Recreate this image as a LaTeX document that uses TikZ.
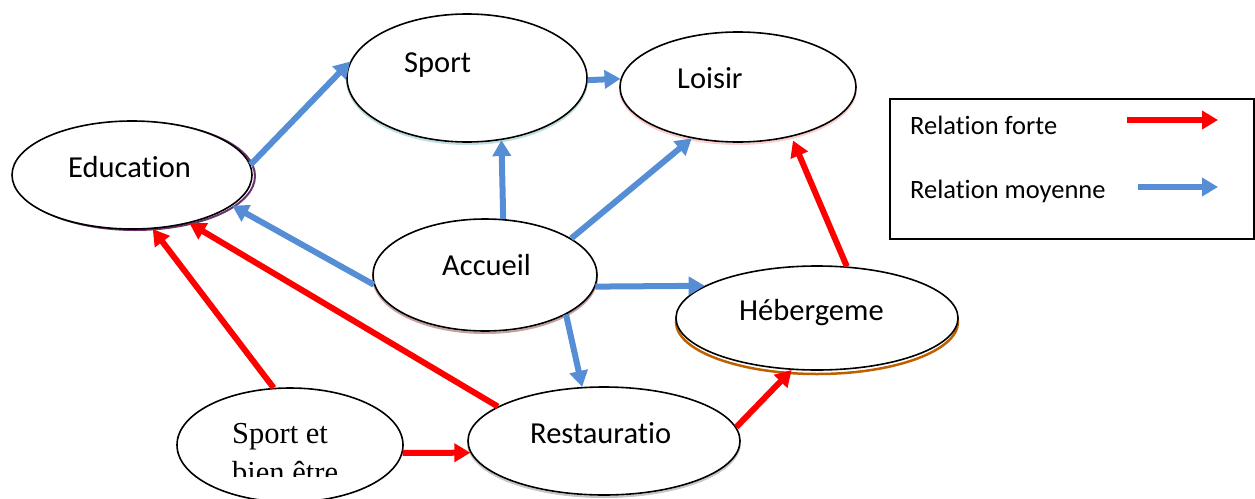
\documentclass[tikz,border=0pt]{standalone}
\usepackage{fontspec}
\setmainfont{Carlito}[Ligatures=NoCommon]
\newfontfamily\serifft{Liberation Serif}
\usetikzlibrary{arrows.meta,shapes.geometric}
\definecolor{arrblue}{HTML}{558ED5}
\definecolor{arrred}{HTML}{FF0000}
\begin{document}
\begin{tikzpicture}[x=1pt,y=-1pt,
 ell/.style={draw, ellipse, line width=1.6pt, inner sep=0pt, fill=white},
 lbl/.style={anchor=base west, inner sep=0pt, font=\fontsize{30.5}{36}\selectfont},
 serlbl/.style={anchor=base west, inner sep=0pt, font=\serifft\fontsize{30.5}{36}\selectfont},
 leglbl/.style={anchor=base west, inner sep=0pt, font=\fontsize{26.5}{32}\selectfont},
 strong/.style={draw=arrred, line width=6pt, -{Triangle[width=18pt,length=16pt]}},
 medium/.style={draw=arrblue, line width=6pt, -{Triangle[width=18pt,length=16pt]}},
 shad/.style={line width=2pt}]
\useasboundingbox (0,0) rectangle (1255,498);

% soft coloured shadows
\draw[shad, draw=violet!55!black!80] (135,176) ellipse (120pt and 54pt);
\draw[shad, draw=teal!25!white] (467,80) ellipse (120pt and 64pt);
\draw[shad, draw=red!20!white] (738,89) ellipse (118pt and 55pt);
\draw[shad, draw=red!25!gray!60] (485,277) ellipse (112pt and 56pt);
\draw[shad, draw=orange!75!black, line width=2.5pt] (817,322) ellipse (141pt and 52pt);
\draw[shad, draw=gray!45] (604,443) ellipse (136pt and 54pt);

% nodes
\node[ell, minimum width=240pt, minimum height=108pt] (edu) at (132,175) {};
\node[ell, minimum width=240pt, minimum height=128pt] (sport) at (467,78) {};
\node[ell, minimum width=236pt, minimum height=110pt] (loisir) at (738,87) {};
\node[ell, minimum width=224pt, minimum height=112pt] (acc) at (485,275) {};
\node[ell, minimum width=282pt, minimum height=104pt] (heb) at (817,318) {};
\node[ell, minimum width=226pt, minimum height=114pt] (sb) at (290,445) {};
\node[ell, minimum width=272pt, minimum height=108pt] (rs) at (604,441) {};

% labels
\node[lbl] (edut) at (68,177) {Education};
\node[lbl] (sportt) at (404,72) {Sport};
\node[lbl] (loisirt) at (677,88) {Loisir};
\node[lbl] (acct) at (442,275) {Accueil};
\node[lbl] (hebt) at (739,320) {Hébergeme};
\node[lbl] (rst) at (530,443) {Restauratio};
\node[serlbl] (sbt1) at (232,443) {Sport et};
\begin{scope}
\clip (170,380) rectangle (420,476);
\node[serlbl] (sbt2) at (232,482) {bien être};
\end{scope}

% connectors
\draw[medium] (edu.5.7) -- (sport.172);
\draw[medium] (sport.-1) -- (loisir.176);
\draw[medium] (acc.72.8) -- (sport.-61.7);
\draw[medium] (acc.23.4) -- (loisir.-132.3);
\draw[medium] (acc.185) -- (edu.-17.3);
\draw[medium] (acc.-6.2) -- (heb.164.3);
\draw[medium] (acc.-26.6) -- (rs.112.4);
\draw[strong] (sb.106.6) -- (edu.-69.3);
\draw[strong] (rs.162.4) -- (edu.-40.1);
\draw[strong] (sb.-4) -- (rs.185.1);
\draw[strong] (rs.6) -- (heb.-116.6);
\draw[strong, shorten >=4pt] (heb.60.5) -- (loisir.-43);

% legend
\node[draw, line width=1.6pt, minimum width=364pt, minimum height=140pt, anchor=north west, inner sep=0pt] (legend) at (889,98) {};
\node[leglbl] (lf) at (910,134) {Relation forte};
\node[leglbl] (lm) at (910,198) {Relation moyenne};
\coordinate (lfa) at (1127,120);
\coordinate (lfb) at (1218,120);
\coordinate (lma) at (1138,187);
\coordinate (lmb) at (1218,187);
\draw[strong] (lfa) -- (lfb);
\draw[medium] (lma) -- (lmb);
\end{tikzpicture}
\end{document}
